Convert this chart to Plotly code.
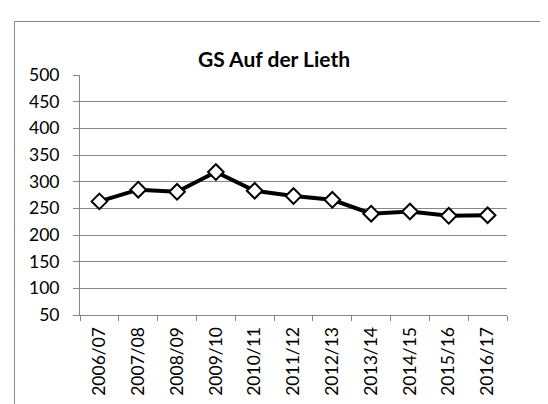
import plotly.graph_objects as go

categories = ["2006/07", "2007/08", "2008/09", "2009/10", "2010/11", "2011/12",
              "2012/13", "2013/14", "2014/15", "2015/16", "2016/17"]
values = [263, 285, 281, 318, 283, 273, 266, 240, 244, 236, 237]
y_ticks = [50, 100, 150, 200, 250, 300, 350, 400, 450, 500]
title_text = "GS Auf der Lieth"

W, H = 548, 404
L, R, T, B = 72, 49, 67, 97
pw, ph = W - L - R, H - T - B

def px_x(p):
    return (p - L) / pw

def px_y(p):
    return (H - B - p) / ph

fig = go.Figure()
fig.add_trace(go.Scatter(
    x=categories, y=values, mode="lines+markers",
    line=dict(color="black", width=4),
    marker=dict(symbol="diamond", size=12, color="white",
                line=dict(color="black", width=2)),
    showlegend=False, cliponaxis=False,
))

fig.update_layout(
    width=W, height=H,
    margin=dict(l=L, r=R, t=T, b=B),
    paper_bgcolor="white", plot_bgcolor="white",
    font=dict(family="Lato", size=17.5, color="black"),
    title=dict(text="<b>" + title_text + "</b>", x=px_x(266), xref="paper",
               xanchor="center", y=1 - 52 / H, yanchor="middle",
               font=dict(family="Lato", size=21, color="black")),
    shapes=[dict(type="rect", xref="paper", yref="paper",
                 x0=px_x(6.5), x1=px_x(560), y0=px_y(420), y1=px_y(13.5),
                 line=dict(color="#868686", width=1), layer="below")],
)
fig.update_xaxes(
    type="category", tickson="boundaries", ticks="outside", ticklen=5,
    tickcolor="#868686", showline=True, linecolor="#868686", linewidth=1,
    showgrid=False, tickangle=-90, range=[-0.5, len(categories) - 0.5],
    ticklabelstandoff=4,
)
fig.update_yaxes(
    range=[50, 500], tickvals=y_ticks, ticks="outside", ticklen=6,
    tickcolor="#868686", showline=True, linecolor="#868686", linewidth=1,
    showgrid=True, gridcolor="#868686", gridwidth=1, zeroline=False,
    ticklabelstandoff=10,
)

fig.write_html("out.html")
